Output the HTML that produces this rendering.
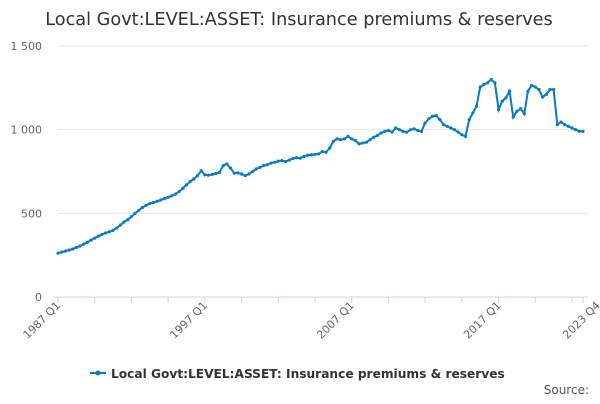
<!DOCTYPE html>
<html><head><meta charset="utf-8">
<style>
body{margin:0;background:#fff;font-family:"DejaVu Sans",sans-serif;}
svg text{font-family:"DejaVu Sans",sans-serif;}
</style></head>
<body>
<svg id="chart" width="600" height="400">
<text x="299" y="25" text-anchor="middle" font-size="17.7" fill="#333">Local Govt:LEVEL:ASSET: Insurance premiums &amp; reserves</text>
<g id="grid"></g><g id="xaxis"></g><g id="series"></g>
<g>
<line x1="90" y1="373" x2="106" y2="373" stroke="#0b7bc1" stroke-width="2"/>
<circle cx="98" cy="373" r="2.5" fill="#0b7bc1"/>
<text x="111" y="378" font-size="12.2" font-weight="bold" fill="#333">Local Govt:LEVEL:ASSET: Insurance premiums &amp; reserves</text>
</g>
<text x="589" y="394" text-anchor="end" font-size="12" fill="#555">Source:</text>
</svg>
<script>
const yTicks=[0,500,1000,1500];
const yTickLabels=["0","500","1 000","1 500"];
const xLabelIdx=[0,40,80,120,147];
const xLabels=["1987 Q1","1997 Q1","2007 Q1","2017 Q1","2023 Q4"];
const values=[262,268,274,280,287,296,305,316,327,340,352,364,374,383,390,398,412,430,448,462,480,500,518,535,548,558,565,572,580,588,596,605,615,630,650,670,690,705,725,755,730,728,732,738,745,785,795,770,740,742,735,725,735,750,765,775,785,790,800,805,812,815,810,818,828,832,830,840,848,850,852,855,870,865,890,930,945,940,945,960,945,935,915,920,925,940,955,965,980,990,995,985,
1010,1000,990,985,1000,1005,995,990,1040,1065,1080,1085,1060,1030,1020,1010,1000,985,970,960,1060,1100,1140,1255,1270,1280,1300,1280,1120,1170,1190,1230,1075,1110,1125,1095,1230,1265,1255,1240,1195,1210,1240,1240,1030,1045,1030,1020,1010,1000,990,990];
const NS="http://www.w3.org/2000/svg";
const x0=58,x1=583,yb=297,yt=46;
const xs=i=>x0+i*(x1-x0)/(values.length-1);
const ys=v=>yb-v*(yb-yt)/1500;
function mk(t,a,p){const e=document.createElementNS(NS,t);for(const k in a)e.setAttribute(k,a[k]);p.appendChild(e);return e;}
const grid=document.getElementById('grid');
yTicks.forEach((v,k)=>{
  if(v>0){const l=mk('line',{x1:x0,x2:x1+5,y1:ys(v),y2:ys(v),stroke:'#e6e6e6'},grid);
  
  }
  const t=mk('text',{x:42,y:ys(v)+4,'text-anchor':'end','font-size':11,fill:'#666'},grid);
  t.textContent=yTickLabels[k];
  
  
});
const xa=document.getElementById('xaxis');
const ax=mk('line',{x1:x0-5,x2:x1+5,y1:yb,y2:yb,stroke:'#ccd6eb'},xa);


for(let i=0;i<values.length;i+=10){
  const tk=mk('line',{x1:xs(i),x2:xs(i),y1:yb,y2:yb+6,stroke:'#ccd6eb'},xa);
  
  
}
mk('line',{x1:x1,x2:x1,y1:yb,y2:yb+6,stroke:'#ccd6eb'},xa);
xLabelIdx.forEach((i,k)=>{
  const x=xs(i)+3,y=yb+9;
  const t=mk('text',{x:x,y:y,'text-anchor':'end','font-size':11,fill:'#666',transform:`rotate(-45 ${x} ${y})`},xa);
  t.textContent=xLabels[k];
  
  
});
const sg=document.getElementById('series');
const pts=values.map((v,i)=>xs(i).toFixed(1)+','+ys(v).toFixed(1)).join(' ');
const pl=mk('polyline',{points:pts,fill:'none',stroke:'#0b7bc1','stroke-width':2},sg);


values.forEach((v,i)=>{
  const c=mk('circle',{cx:xs(i),cy:ys(v),r:1.6,fill:'#0b7bc1'},sg);
  
  
});
</script>
</body></html>
